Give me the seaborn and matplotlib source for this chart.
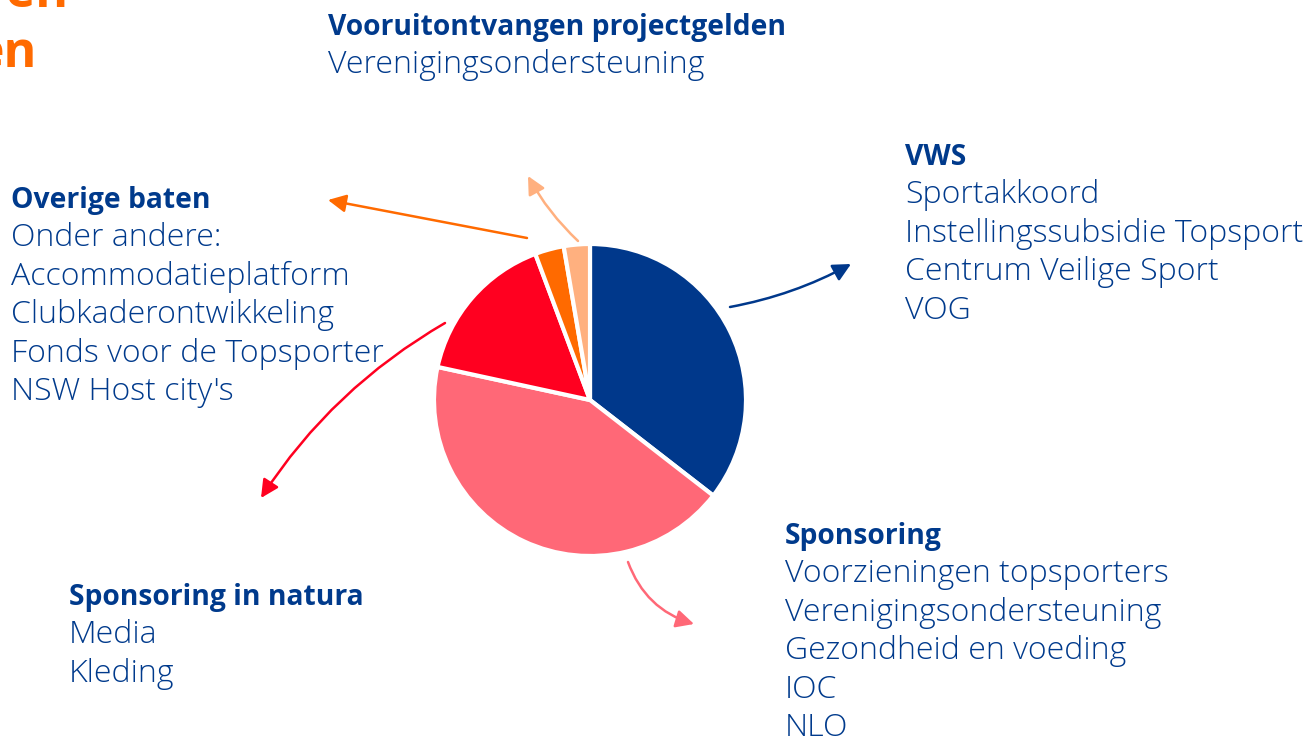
import matplotlib
matplotlib.use("Agg")
import matplotlib.pyplot as plt
import seaborn as sns

# ==========================
# Data: shares of income (clockwise from the top)
# ==========================
categories = ["VWS", "Sponsoring", "Sponsoring in natura", "Overige baten",
              "Vooruitontvangen projectgelden"]
shares = [35.5, 42.9, 15.9, 3.0, 2.7]
colors = ["#00388B", "#FF6877", "#FF0020", "#FF6A00", "#FFB07F"]

# detail lines under each heading
details = {
    "VWS": ["Sportakkoord", "Instellingssubsidie Topsport",
            "Centrum Veilige Sport", "VOG"],
    "Sponsoring": ["Voorzieningen topsporters", "Verenigingsondersteuning",
                   "Gezondheid en voeding", "IOC", "NLO"],
    "Sponsoring in natura": ["Media", "Kleding"],
    "Overige baten": ["Onder andere:", "Accommodatieplatform",
                      "Clubkaderontwikkeling", "Fonds voor de Topsporter",
                      "NSW Host city's"],
    "Vooruitontvangen projectgelden": ["Verenigingsondersteuning"],
}

W, H = 1315, 737
TEXT = "#003A8C"

sns.set_theme(style="white")
plt.rcParams["font.family"] = ["Open Sans", "DejaVu Sans"]

fig = plt.figure(figsize=(W / 100, H / 100), dpi=100)
ax = fig.add_axes([0, 0, 1, 1])
ax.set_xlim(0, W)
ax.set_ylim(0, H)
ax.set_aspect("equal")
ax.axis("off")


def py(y):
    # pixel row (from top) -> data y (from bottom)
    return H - y


# ==========================
# Pie
# ==========================
ax.pie(shares, colors=colors, startangle=90, counterclock=False,
       center=(590, py(400)), radius=156,
       wedgeprops=dict(edgecolor="white", linewidth=3))
ax.set_xlim(0, W)
ax.set_ylim(0, H)

# ==========================
# Text blocks: (left x, first baseline)
# ==========================
positions = {
    "VWS": (905, 165),
    "Sponsoring": (785, 544),
    "Sponsoring in natura": (69, 605),
    "Overige baten": (11, 208),
    "Vooruitontvangen projectgelden": (328, 35),
}
step = 38.4
for cat in categories:
    x0, y0 = positions[cat]
    ax.text(x0, py(y0), cat, color=TEXT, fontsize=20.3, fontweight="bold",
            va="baseline", ha="left")
    for i, line in enumerate(details[cat]):
        ax.text(x0, py(y0 + (i + 1) * step), line, color=TEXT, fontsize=23,
                fontweight="light", va="baseline", ha="left")

# cut-off title in the top left corner
ax.text(68, py(7), "r en", color="#FF6A00", fontsize=36, fontweight="bold",
        va="baseline", ha="right")
ax.text(37, py(67), "en", color="#FF6A00", fontsize=36, fontweight="bold",
        va="baseline", ha="right")

# ==========================
# Arrows from slices to their text
# ==========================
arrows = [
    ((730, 307), (851, 264), "#00388B", 0.08),
    ((628, 562), (694, 624), "#FF6877", 0.25),
    ((445, 323), (261, 498), "#FF0020", 0.12),
    ((527, 238), (328, 200), "#FF6A00", 0.0),
    ((578, 241), (528, 176), "#FFB07F", -0.08),
]
for (x1, y1), (x2, y2), c, rad in arrows:
    ax.annotate("", xy=(x2, py(y2)), xytext=(x1, py(y1)),
                arrowprops=dict(arrowstyle="-|>,head_length=0.9,head_width=0.45",
                                color=c, lw=1.8, shrinkA=0, shrinkB=0,
                                connectionstyle=f"arc3,rad={rad}"))

fig.savefig("out.png", dpi=100)
